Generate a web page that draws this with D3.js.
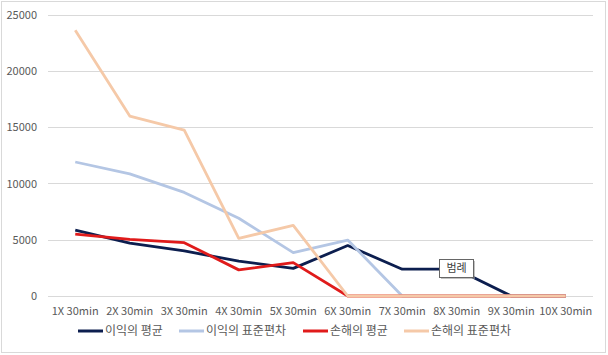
<!DOCTYPE html>
<html><head><meta charset="utf-8">
<script src="https://cdn.jsdelivr.net/npm/d3@7"></script>
<style>body{margin:0;background:#fff}svg{display:block}</style>
</head><body>
<svg id="c" width="608" height="355"></svg>
<script>
const categories = ["1X 30min","2X 30min","3X 30min","4X 30min","5X 30min","6X 30min","7X 30min","8X 30min","9X 30min","10X 30min"];
const profitMean = [5850, 4700, 4000, 3100, 2450, 4480, 2380, 2380, 0, 0];
const profitStd = [11900, 10850, 9200, 6900, 3850, 4970, 0, 0, 0, 0];
const lossMean = [5500, 5030, 4740, 2320, 2960, 0, 0, 0, 0, 0];
const lossStd = [23600, 15980, 14740, 5120, 6280, 0, 0, 0, 0, 0];
const yTicks = [0, 5000, 10000, 15000, 20000, 25000];
const seriesNames = ["이익의 평균","이익의 표준편차","손해의 평균","손해의 표준편차"];
const seriesColors = ["#0c1e4f","#b4c6e4","#e01b1b","#f5c9a8"];

const series = [profitMean, profitStd, lossMean, lossStd];
const svg = d3.select("#c");
const font = "'Noto Sans CJK KR','Noto Sans',sans-serif";
svg.append("rect").attr("x",1.5).attr("y",1.5).attr("width",604).attr("height",351)
  .attr("fill","#fff").attr("stroke","#d9d9d9");

const x = d3.scaleBand().domain(categories).range([48, 593]);
const y = d3.scaleLinear().domain([0, 25000]).range([296, 14.5]);

const grid = svg.append("g");
grid.selectAll("line").data(yTicks).join("line")
  .attr("x1",48).attr("x2",593).attr("y1",d=>Math.round(y(d))+0.5).attr("y2",d=>Math.round(y(d))+0.5)
  .attr("stroke","#d9d9d9").attr("stroke-width",1);

const yAxis = svg.append("g").attr("transform","translate(40,0)")
  .call(d3.axisLeft(y).tickValues(yTicks).tickSize(0).tickFormat(d3.format("d")));
yAxis.select(".domain").remove();
yAxis.selectAll("text").attr("font-family",font).attr("font-size",11).attr("fill","#595959").attr("dy","0.35em");

const xAxis = svg.append("g").attr("transform","translate(0,303)")
  .call(d3.axisBottom(x).tickSize(0));
xAxis.select(".domain").remove();
xAxis.selectAll("text").attr("font-family",font).attr("font-size",11).attr("fill","#595959").attr("dy","0.85em");

const line = d3.line().x((d,i)=>x(categories[i])+x.bandwidth()/2).y(d=>y(d));
series.forEach((s,k)=>{
  svg.append("path").datum(s).attr("d",line).attr("fill","none")
    .attr("stroke",seriesColors[k]).attr("stroke-width",2.8).attr("stroke-linejoin","round");
});

// legend
const legendX = [78, 179, 303, 404];
const lg = svg.append("g");
seriesNames.forEach((n,i)=>{
  lg.append("line").attr("x1",legendX[i]).attr("x2",legendX[i]+25).attr("y1",331).attr("y2",331)
    .attr("stroke",seriesColors[i]).attr("stroke-width",3);
  lg.append("text").attr("x",legendX[i]+27).attr("y",331).attr("dy","0.35em")
    .attr("font-family",font).attr("font-size",12).attr("fill","#595959").text(n);
});

// tooltip "범례"
const tt = svg.append("g");
tt.append("rect").attr("x",441).attr("y",261).attr("width",34).attr("height",18).attr("fill","#9a9a9a").attr("opacity",0.6);
tt.append("rect").attr("x",439.5).attr("y",259.5).attr("width",34).attr("height",18).attr("fill","#fff").attr("stroke","#666");
tt.append("text").attr("x",456.5).attr("y",268.5).attr("dy","0.35em").attr("text-anchor","middle")
  .attr("font-family",font).attr("font-size",11).attr("fill","#404040").text("범례");
</script>
</body></html>
